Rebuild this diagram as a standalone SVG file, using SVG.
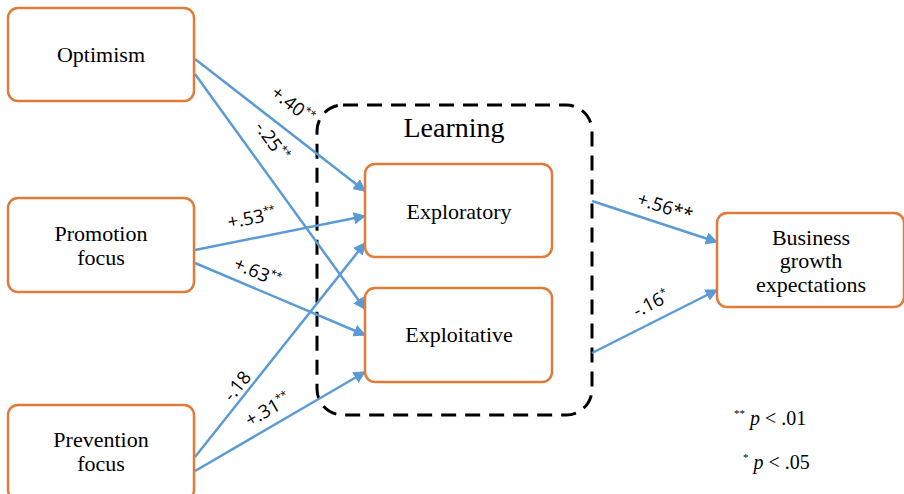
<svg xmlns="http://www.w3.org/2000/svg" width="904" height="494" viewBox="0 0 904 494">
<defs>
<marker id="ah" viewBox="0 0 10 10" refX="9" refY="5" markerWidth="5" markerHeight="5" orient="auto" markerUnits="strokeWidth">
<path d="M0,0 L10,5 L0,10 z" fill="#5B9BD5"/>
</marker>
<style>
.box{fill:#fff;stroke:#E07B39;stroke-width:2.5}
.ln{stroke:#5B9BD5;stroke-width:2.5;fill:none;marker-end:url(#ah)}
</style>
</defs>
<rect width="904" height="494" fill="#fff"/>
<g id="learning">
<rect x="317" y="105" width="275" height="310" rx="26" fill="none" stroke="#000" stroke-width="3" stroke-dasharray="15,9"/>
<text x="454" y="137" font-family="Liberation Serif, Times New Roman, serif" font-size="28" text-anchor="middle">Learning</text>
</g>
<g id="connectors">
<line class="ln" x1="195" y1="59" x2="365" y2="191"/>
<line class="ln" x1="195" y1="74" x2="365" y2="309"/>
<line class="ln" x1="195" y1="250" x2="365" y2="216"/>
<line class="ln" x1="195" y1="263" x2="365" y2="335"/>
<line class="ln" x1="195" y1="457" x2="365" y2="243"/>
<line class="ln" x1="195" y1="471" x2="365" y2="372"/>
<line class="ln" x1="592" y1="201" x2="717" y2="242"/>
<line class="ln" x1="592" y1="353" x2="717" y2="290"/>
<g font-family="Open Sans, Liberation Sans, sans-serif" font-size="18.5" fill="#000" text-anchor="middle">
<text transform="translate(289,110) rotate(38)">+.40<tspan font-size="11" dy="-7">**</tspan></text>
<text transform="translate(267,145) rotate(54)">-.25<tspan font-size="11" dy="-7">**</tspan></text>
<text transform="translate(253,224) rotate(-11)">+.53<tspan font-size="11" dy="-7">**</tspan></text>
<text transform="translate(255,278) rotate(23)">+.63<tspan font-size="11" dy="-7">**</tspan></text>
<text transform="translate(242,390) rotate(-51)">-.18</text>
<text transform="translate(271,415) rotate(-30)">+.31<tspan font-size="11" dy="-7">**</tspan></text>
<text transform="translate(663,213) rotate(18)">+.56**</text>
<text transform="translate(654,309) rotate(-27)">-.16<tspan font-size="11" dy="-7">*</tspan></text>
</g>
</g>
<g font-family="Liberation Serif, Times New Roman, serif" font-size="22" fill="#000" text-anchor="middle">
<g id="optimism">
<rect class="box" x="8" y="8" width="186" height="93" rx="10"/>
<text x="101" y="62">Optimism</text>
</g>
<g id="promotion">
<rect class="box" x="8" y="198" width="186" height="94" rx="10"/>
<text x="101" y="241">Promotion</text>
<text x="101" y="265">focus</text>
</g>
<g id="prevention">
<rect class="box" x="8" y="405" width="186" height="95" rx="10"/>
<text x="101" y="447">Prevention</text>
<text x="101" y="471">focus</text>
</g>
<g id="exploratory">
<rect class="box" x="365" y="164" width="187" height="93" rx="10"/>
<text x="459" y="219">Exploratory</text>
</g>
<g id="exploitative">
<rect class="box" x="365" y="288" width="187" height="94" rx="10"/>
<text x="459" y="342">Exploitative</text>
</g>
<g id="business">
<rect class="box" x="717" y="213" width="187" height="94" rx="10"/>
<text x="811" y="245">Business</text>
<text x="811" y="268">growth</text>
<text x="811" y="292">expectations</text>
</g>
</g>
<g id="legend" font-family="Liberation Serif, Times New Roman, serif" font-size="20" fill="#000">
<text x="734" y="425"><tspan font-size="11" dy="-8">**</tspan><tspan dy="8" font-style="italic"> p</tspan> &lt; .01</text>
<text x="743" y="469"><tspan font-size="11" dy="-8">*</tspan><tspan dy="8" font-style="italic"> p</tspan> &lt; .05</text>
</g>
</svg>
